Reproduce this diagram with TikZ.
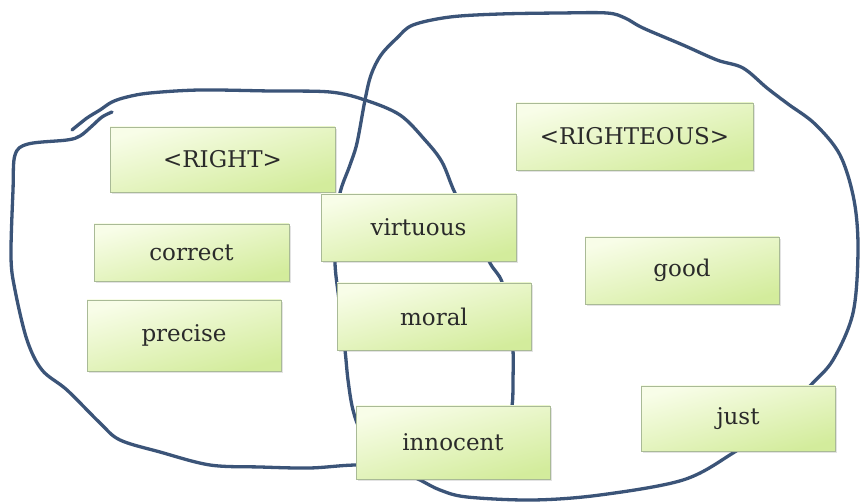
\documentclass[tikz,border=0pt]{standalone}
\usepackage{fontspec}
\setmainfont{DejaVu Serif}
\usetikzlibrary{shadows}
\definecolor{loopc}{HTML}{3B5478}
\definecolor{boxtop}{HTML}{F8FDE8}
\definecolor{boxbot}{HTML}{D3EC9C}
\definecolor{boxline}{HTML}{A9BA96}
\definecolor{wordc}{HTML}{2A2A2A}
\begin{document}
\begin{tikzpicture}[x=1pt,y=-1pt,
  wordbox/.style={draw=boxline, line width=0.8pt, top color=boxtop, bottom color=boxbot,
    shading angle=15, inner sep=0pt, text=wordc,
    font=\fontsize{23}{26}\selectfont,
    drop shadow={opacity=0.22, shadow xshift=1.6pt, shadow yshift=-1.8pt}},
  loopline/.style={draw=loopc, line width=3.3pt, line cap=round, line join=round}]
\useasboundingbox[fill=white] (0,0) rectangle (860,502);

% left loop (RIGHT)
\draw[loopline] plot[smooth, tension=0.55] coordinates {
 (72,130) (87,118) (100,110) (112,102) (127,97) (150,93) (200,90) (270,91) (330,92)
 (365,100) (400,115) (425,140) (442,162) (455,193) (475,230) (490,263) (502,282)
 (510,320) (513,350) (513,380) (512,406) (505,440) (470,460) (420,466) (356,465)
 (310,468) (260,467) (210,465) (160,452) (120,440) (100,423) (67,390) (42,370) (27,340)
 (15,290) (11,257) (13,190) (15,155) (28,144) (67,140) (80,136) (92,126) (102,117) (112,112)};

% right loop (RIGHTEOUS)
\draw[loopline] plot[smooth cycle, tension=0.55] coordinates {
 (450,17) (500,14) (560,13) (607,13) (625,18) (643,28) (683,45) (717,60) (743,68)
 (767,88) (788,104) (815,124) (840,155) (854,200) (858,250) (853,313) (833,360)
 (810,386) (780,420) (733,453) (683,480) (600,495) (533,500) (467,497) (440,490)
 (420,480) (390,465) (362,432) (353,410) (348,380) (345,350) (339,300) (335,263)
 (337,225) (340,193) (350,165) (357,143) (365,100) (371,75) (381,55) (397,38) (413,25)};

\node[wordbox, minimum width=225pt, minimum height=65pt] (right) at (222.5,159.5) {<RIGHT>};
\node[wordbox, minimum width=237pt, minimum height=67pt] (righteous) at (634.5,136.5) {<RIGHTEOUS>};
\node[wordbox, minimum width=195pt, minimum height=57pt] (correct) at (191.5,252.5) {correct};
\node[wordbox, minimum width=194pt, minimum height=71pt] (precise) at (184,335.5) {precise};
\node[wordbox, minimum width=195pt, minimum height=67pt] (virtuous) at (418.5,227.5) {virtuous};
\node[wordbox, minimum width=194pt, minimum height=67pt] (moral) at (434,316.5) {moral};
\node[wordbox, minimum width=194pt, minimum height=67pt] (good) at (682,270.5) {good};
\node[wordbox, minimum width=194pt, minimum height=73pt] (innocent) at (453,442.5) {innocent};
\node[wordbox, minimum width=194pt, minimum height=65pt] (just) at (738,418.5) {just};
\end{tikzpicture}
\end{document}
